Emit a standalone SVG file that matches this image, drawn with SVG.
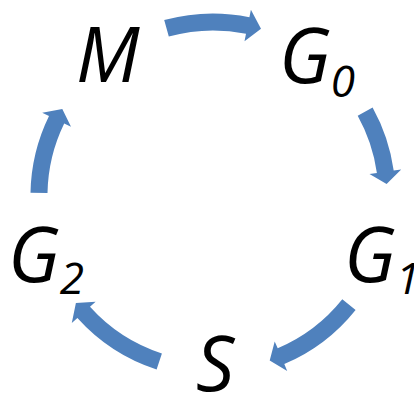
<svg xmlns="http://www.w3.org/2000/svg" width="414" height="394" viewBox="0 0 414 394">
<style>
.arr{fill:#4F81BD;stroke:none}
.lbl{font-family:"Open Sans","Liberation Sans",sans-serif;font-style:italic;font-size:76px;fill:#000}
.sub{font-size:44px}
</style>
<rect width="414" height="394" fill="#fff"/>
<g id="connectors">
<path class="arr" d="M164.2,20.1 A182.5,182.5 0 0 1 249.4,17.2 L250.9,9.8 L261.0,28.7 L244.5,41.2 L246.0,33.8 A165.5,165.5 0 0 0 168.8,36.5 Z"/>
<path class="arr" d="M372.6,107.5 A182.5,182.5 0 0 1 393.7,170.6 L401.2,169.6 L386.6,183.9 L369.5,174.0 L376.9,173.0 A165.5,165.5 0 0 0 357.7,115.8 Z"/>
<path class="arr" d="M355.6,309.9 A182.5,182.5 0 0 1 284.3,364.0 L287.2,370.9 L269.7,360.5 L274.7,341.4 L277.7,348.3 A165.5,165.5 0 0 0 342.3,299.3 Z"/>
<path class="arr" d="M156.6,369.6 A182.5,182.5 0 0 1 77.4,318.1 L71.8,323.1 L75.9,303.1 L95.6,301.7 L90.0,306.7 A165.5,165.5 0 0 0 161.9,353.4 Z"/>
<path class="arr" d="M30.5,192.8 A182.5,182.5 0 0 1 49.0,116.0 L42.2,112.7 L62.3,109.0 L71.0,126.7 L64.2,123.4 A165.5,165.5 0 0 0 47.5,193.1 Z"/>
</g>
<g id="node-M"><text class="lbl" x="76" y="82">M</text></g>
<g id="node-G0"><text class="lbl" x="279" y="83">G<tspan class="sub" dy="14">0</tspan></text></g>
<g id="node-G1"><text class="lbl" x="344" y="282">G<tspan class="sub" dy="12">1</tspan></text></g>
<g id="node-S"><text class="lbl" x="196" y="391">S</text></g>
<g id="node-G2"><text class="lbl" x="8" y="282">G<tspan class="sub" dy="12">2</tspan></text></g>
</svg>
